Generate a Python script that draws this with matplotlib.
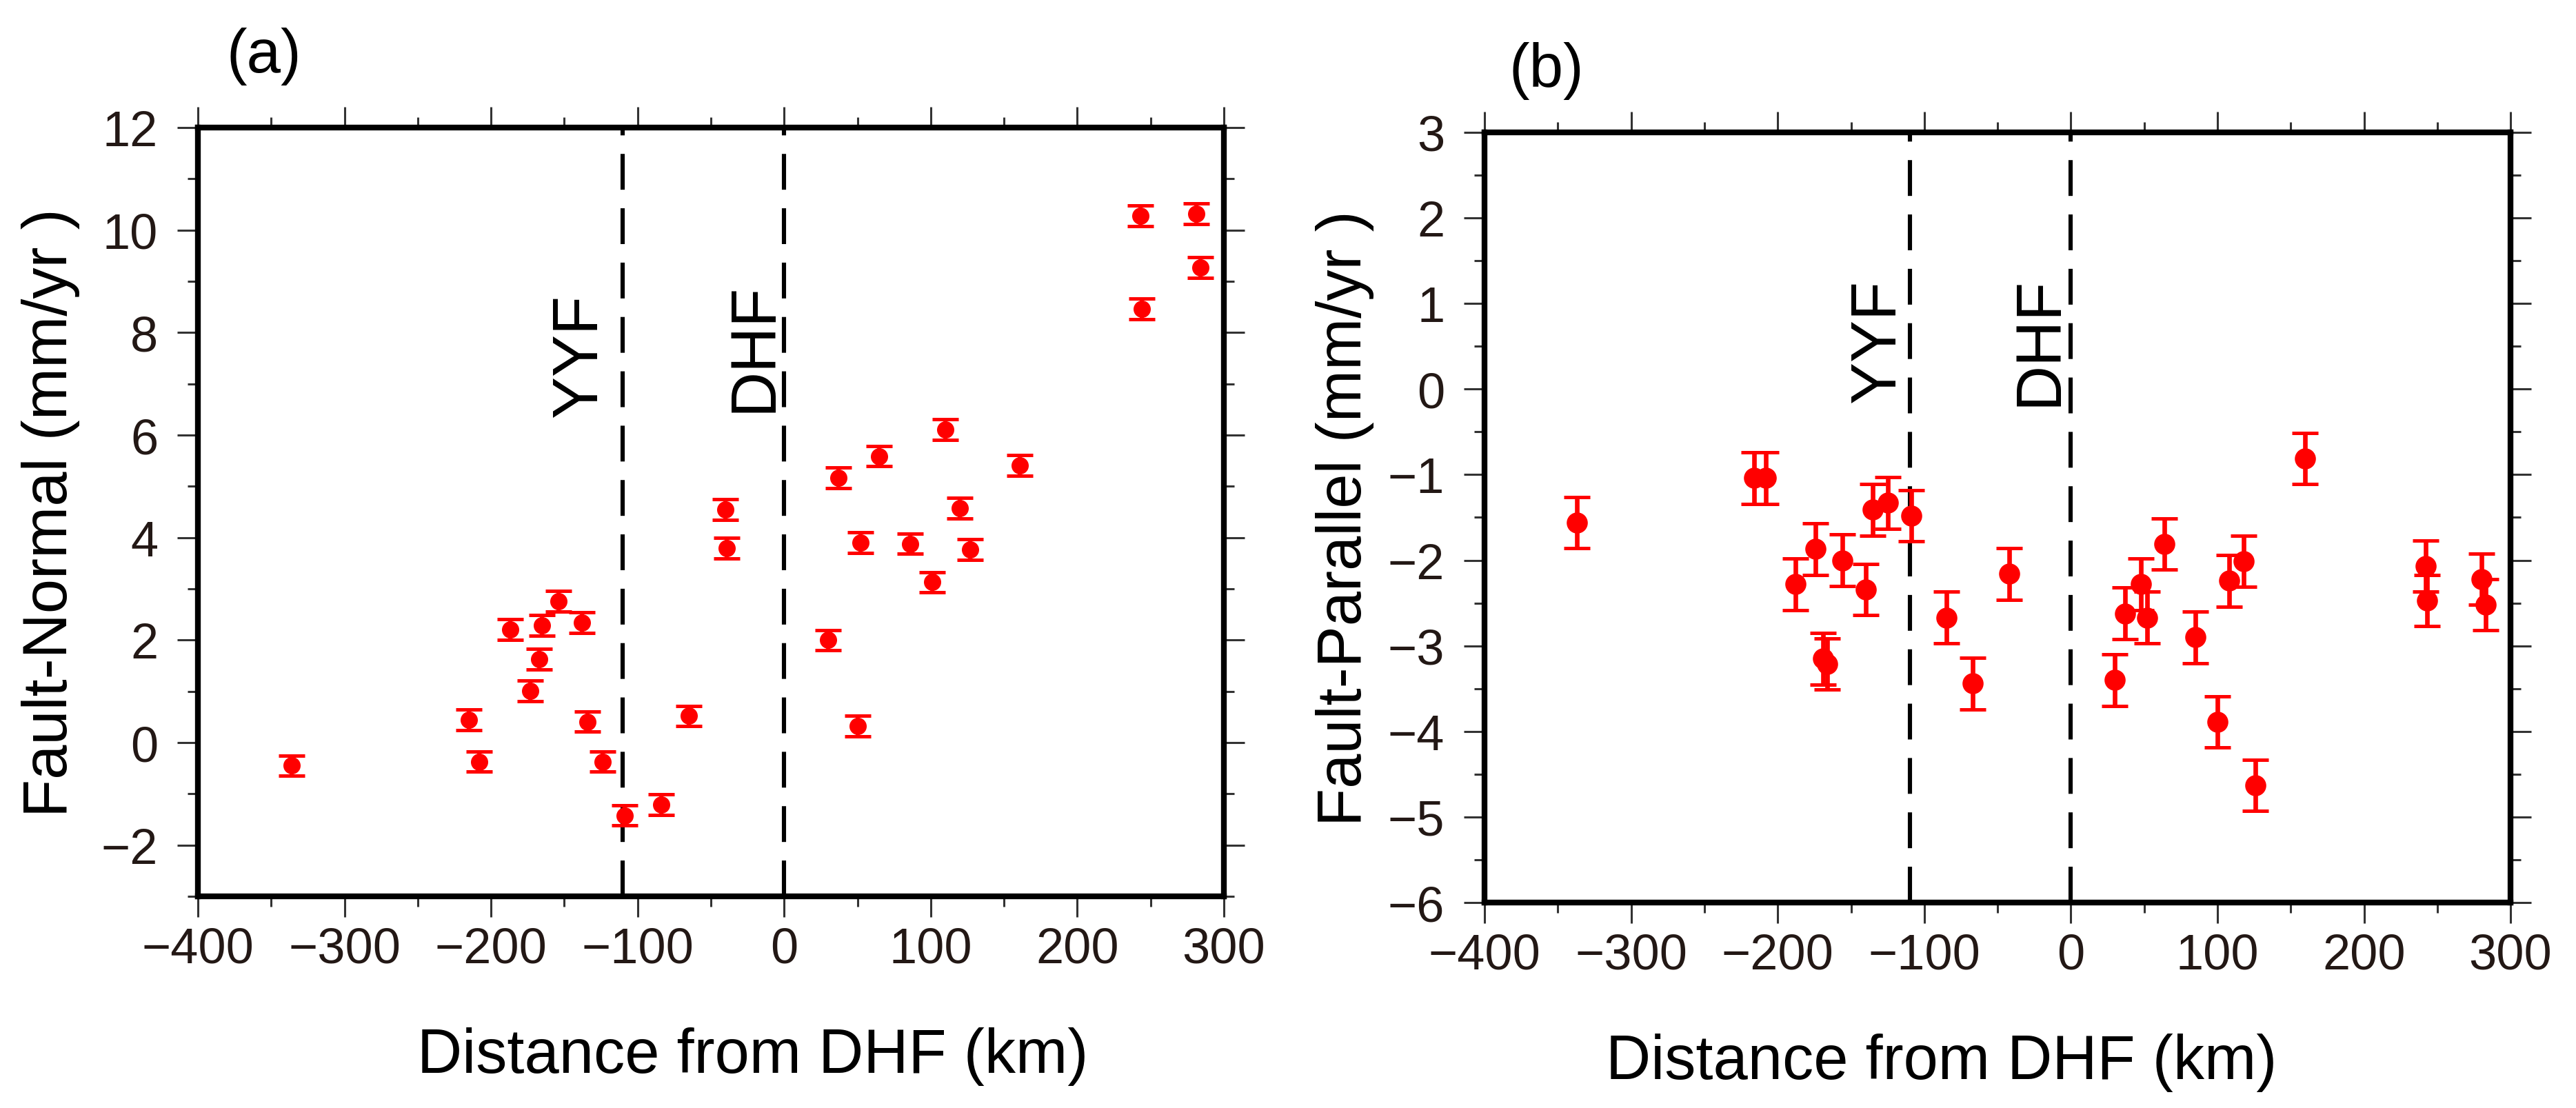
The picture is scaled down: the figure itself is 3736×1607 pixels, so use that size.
import numpy as np
import matplotlib
matplotlib.use('Agg')
import matplotlib.pyplot as plt
from matplotlib.ticker import MultipleLocator

plt.rcParams['font.family'] = ['Liberation Sans', 'DejaVu Sans']

# fault-normal velocities, panel (a)
dist_a = [-336, -215, -208, -187, -173, -167, -165, -154, -138, -134, -124, -109, -84, -65,
          -40, -39, 30, 37, 50, 52, 65, 86, 101, 110, 120, 127, 161, 243, 244, 281, 284]
vel_a = [-0.45, 0.44, -0.37, 2.21, 1.01, 1.63, 2.29, 2.76, 2.34, 0.41, -0.37, -1.42, -1.21, 0.52,
         4.55, 3.79, 2.0, 5.17, 0.32, 3.90, 5.59, 3.88, 3.13, 6.11, 4.57, 3.77, 5.41, 10.28, 8.46, 10.32, 9.27]
err_a = [0.2] * len(dist_a)

# fault-parallel velocities, panel (b)
dist_b = [-337, -216, -208, -188, -174, -169, -166, -156, -140, -135, -125, -109, -85, -67,
          -42, 30, 37, 48, 52, 64, 85, 100, 108, 118, 126, 160, 242, 243, 280, 283]
vel_b = [-1.56, -1.04, -1.04, -2.28, -1.87, -3.15, -3.21, -2.0, -2.34, -1.41, -1.33, -1.48, -2.67, -3.44,
         -2.16, -3.40, -2.62, -2.28, -2.67, -1.81, -2.90, -3.89, -2.24, -2.01, -4.63, -0.81, -2.07, -2.47, -2.22, -2.52]
err_b = [0.3] * len(dist_b)

fault_x = {'YYF': -110, 'DHF': 0}

fig = plt.figure(figsize=(18.68, 8.04), dpi=200)
ax_a = fig.add_axes([0.0768, 0.1909, 0.3983, 0.6934])
ax_b = fig.add_axes([0.5763, 0.1853, 0.3983, 0.6947])

tick_col = '#231815'


def style_axes(ax, ylim, ymajor, yminor, ylabel, ypad, panel, panel_pos, xlab_x, fault_txt):
    ax.set_xlim(-400, 300)
    ax.set_ylim(*ylim)
    ax.xaxis.set_major_locator(MultipleLocator(100))
    ax.xaxis.set_minor_locator(MultipleLocator(50))
    ax.yaxis.set_major_locator(MultipleLocator(ymajor))
    ax.yaxis.set_minor_locator(MultipleLocator(yminor))
    ax.tick_params(which='both', direction='out', top=True, right=True, width=1.1,
                   color='#333333', labelcolor=tick_col)
    ax.tick_params(which='major', length=10.8, labelsize=26)
    ax.tick_params(which='minor', length=5.4)
    ax.tick_params(axis='x', which='major', pad=5)
    ax.tick_params(axis='y', which='major', pad=10)
    for s in ax.spines.values():
        s.set_linewidth(3)
    ax.set_xlabel('Distance from DHF (km)', fontsize=32.5, labelpad=28, x=xlab_x)
    ax.set_ylabel(ylabel, fontsize=32.5, labelpad=ypad)
    ax.text(panel_pos[0], panel_pos[1], panel, transform=ax.transAxes, fontsize=32, va='bottom')
    for name, (dx, ty) in fault_txt.items():
        x = fault_x[name]
        ax.axvline(x, color='k', lw=2.2, ls=(0, (8.5, 4.4)), zorder=1)
        ax.text(x + dx, ty, name, rotation=90, ha='right', va='center', fontsize=33)


ax_a.errorbar(dist_a, vel_a, yerr=err_a, fmt='o', color='red', ms=8,
              capsize=6.7, elinewidth=2, capthick=1.8, zorder=3)
style_axes(ax_a, (-3, 12), 2, 1, 'Fault-Normal (mm/yr )', 11, '(a)', (0.028, 1.056), 0.541,
           {'YYF': (-9, 7.56), 'DHF': (0, 7.72)})

ax_b.errorbar(dist_b, vel_b, yerr=err_b, fmt='o', color='red', ms=10,
              capsize=6.7, elinewidth=2.4, capthick=1.8, zorder=3)
style_axes(ax_b, (-6, 3), 1, 0.5, 'Fault-Parallel (mm/yr )', 7, '(b)', (0.024, 1.043), 0.4456,
           {'YYF': (-1, 0.57), 'DHF': (-1, 0.57)})

fig.savefig('out.png', dpi=200)
